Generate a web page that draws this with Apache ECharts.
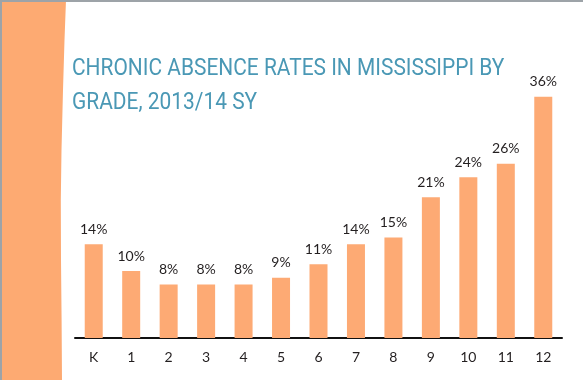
<!DOCTYPE html>
<html>
<head>
<meta charset="utf-8">
<script src="https://cdn.jsdelivr.net/npm/echarts@6/dist/echarts.min.js"></script>
<style>
html,body{margin:0;padding:0;background:#fff;}
#c{width:583px;height:380px;}
</style>
</head>
<body>
<div id="c"></div>
<script>
const categories = ['K','1','2','3','4','5','6','7','8','9','10','11','12'];
const absenceRates = [14,10,8,8,8,9,11,14,15,21,24,26,36];
const titleText = 'CHRONIC ABSENCE RATES IN MISSISSIPPI BY\nGRADE, 2013/14 SY';

const bandPoints = [[0,0],[66,0],[64.5,40],[63,90],[61.5,150],[60.8,200],[61,260],[61.6,320],[62,380],[0,380]];

const chart = echarts.init(document.getElementById('c'), null, {renderer:'canvas'});
chart.setOption({
  backgroundColor:'#ffffff',
  animation:false,
  graphic:[
    {type:'polygon', shape:{points:bandPoints}, style:{fill:'#FDAA72'}, z:-1},
    {type:'rect', shape:{x:0,y:0,width:583,height:2}, style:{fill:'#9DA3A8'}},
    {type:'rect', shape:{x:0,y:0,width:2,height:380}, style:{fill:'#9DA3A8'}},
    {type:'text', x:72, y:52, scaleX:0.91,
     style:{text:titleText, fontFamily:'Roboto', fontSize:23, lineHeight:34, fill:'#4A98B5', textVerticalAlign:'top'}}
  ],
  grid:{left:75, right:21, top:70, bottom:42},
  xAxis:{
    type:'category', data:categories,
    axisLine:{lineStyle:{color:'#111', width:2}},
    axisTick:{show:false},
    axisLabel:{color:'#231f20', fontFamily:'Lato', fontSize:14, margin:12}
  },
  yAxis:{type:'value', min:0, max:40, show:false, splitLine:{show:false}},
  series:[{
    type:'bar', data:absenceRates, barWidth:18,
    itemStyle:{color:'#FDAA74'},
    label:{show:true, position:'top', distance:8, formatter:'{c}%', color:'#231f20', fontFamily:'Lato', fontSize:14}
  }]
});
</script>
</body>
</html>
